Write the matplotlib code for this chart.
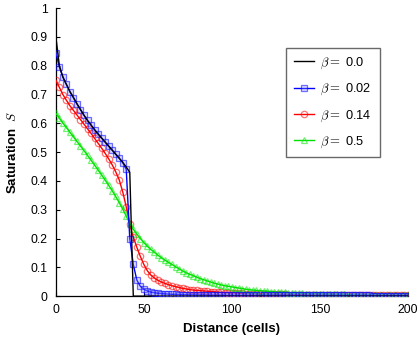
import numpy as np
import matplotlib
matplotlib.use("Agg")
import matplotlib.pyplot as plt

plt.rcParams['font.family'] = ['Liberation Sans', 'DejaVu Sans']
plt.rcParams['mathtext.fontset'] = 'cm'

distance = np.arange(0, 201, 2)

s_beta_0 = [
    0.900, 0.800, 0.760, 0.735, 0.710, 0.690, 0.668, 0.648, 0.628, 0.610,
    0.594, 0.578, 0.563, 0.549, 0.535, 0.521, 0.507, 0.493, 0.479, 0.465,
    0.448, 0.430, 0.000, 0.000, 0.000, 0.000, 0.000, 0.000, 0.000, 0.000,
    0.000, 0.000, 0.000, 0.000, 0.000, 0.000, 0.000, 0.000, 0.000, 0.000,
    0.000, 0.000, 0.000, 0.000, 0.000, 0.000, 0.000, 0.000, 0.000, 0.000,
    0.000, 0.000, 0.000, 0.000, 0.000, 0.000, 0.000, 0.000, 0.000, 0.000,
    0.000, 0.000, 0.000, 0.000, 0.000, 0.000, 0.000, 0.000, 0.000, 0.000,
    0.000, 0.000, 0.000, 0.000, 0.000, 0.000, 0.000, 0.000, 0.000, 0.000,
    0.000, 0.000, 0.000, 0.000, 0.000, 0.000, 0.000, 0.000, 0.000, 0.000,
    0.000, 0.000, 0.000, 0.000, 0.000, 0.000, 0.000, 0.000, 0.000, 0.000,
    0.000,
]

s_beta_002 = [
    0.845, 0.795, 0.762, 0.735, 0.710, 0.688, 0.667, 0.647, 0.628, 0.610,
    0.594, 0.578, 0.563, 0.549, 0.535, 0.521, 0.507, 0.493, 0.479, 0.463,
    0.440, 0.200, 0.110, 0.056, 0.034, 0.024, 0.018, 0.014, 0.012, 0.010,
    0.009, 0.008, 0.007, 0.0065, 0.006, 0.0055, 0.005, 0.005, 0.0045, 0.0045,
    0.004, 0.004, 0.004, 0.0035, 0.0035, 0.0035, 0.003, 0.003, 0.003, 0.003,
    0.003, 0.003, 0.003, 0.003, 0.003, 0.003, 0.003, 0.003, 0.003, 0.003,
    0.003, 0.003, 0.003, 0.003, 0.003, 0.003, 0.003, 0.003, 0.003, 0.003,
    0.0025, 0.0025, 0.0025, 0.0025, 0.0025, 0.0025, 0.0025, 0.0025, 0.0025, 0.0025,
    0.0025, 0.0025, 0.0025, 0.0025, 0.0025, 0.0025, 0.0025, 0.0025, 0.0025, 0.0025,
    0.002, 0.002, 0.002, 0.002, 0.002, 0.002, 0.002, 0.002, 0.002, 0.002,
    0.002,
]

s_beta_014 = [
    0.750, 0.725, 0.700, 0.680, 0.661, 0.645, 0.629, 0.613, 0.597, 0.581,
    0.565, 0.548, 0.531, 0.514, 0.496, 0.477, 0.456, 0.432, 0.404, 0.362,
    0.310, 0.250, 0.205, 0.170, 0.138, 0.110, 0.088, 0.073, 0.063, 0.055,
    0.049, 0.044, 0.040, 0.036, 0.033, 0.030, 0.027, 0.025, 0.023, 0.021,
    0.020, 0.019, 0.018, 0.017, 0.016, 0.015, 0.014, 0.013, 0.012, 0.012,
    0.011, 0.011, 0.010, 0.010, 0.009, 0.009, 0.008, 0.008, 0.008, 0.007,
    0.007, 0.007, 0.006, 0.006, 0.006, 0.006, 0.005, 0.005, 0.005, 0.005,
    0.005, 0.005, 0.004, 0.004, 0.004, 0.004, 0.004, 0.004, 0.004, 0.004,
    0.004, 0.003, 0.003, 0.003, 0.003, 0.003, 0.003, 0.003, 0.003, 0.003,
    0.003, 0.003, 0.003, 0.003, 0.003, 0.003, 0.003, 0.003, 0.003, 0.003,
    0.003,
]

s_beta_05 = [
    0.635, 0.618, 0.601, 0.585, 0.569, 0.553, 0.537, 0.521, 0.505, 0.489,
    0.472, 0.455, 0.438, 0.421, 0.403, 0.385, 0.366, 0.346, 0.325, 0.302,
    0.278, 0.252, 0.232, 0.215, 0.200, 0.186, 0.173, 0.162, 0.152, 0.142,
    0.133, 0.125, 0.117, 0.110, 0.102, 0.095, 0.088, 0.081, 0.076, 0.071,
    0.066, 0.061, 0.057, 0.053, 0.049, 0.045, 0.042, 0.039, 0.036, 0.034,
    0.032, 0.030, 0.028, 0.026, 0.024, 0.022, 0.021, 0.020, 0.019, 0.018,
    0.017, 0.016, 0.015, 0.014, 0.013, 0.013, 0.012, 0.011, 0.011, 0.010,
    0.010, 0.009, 0.009, 0.008, 0.008, 0.008, 0.007, 0.007, 0.007, 0.006,
    0.006, 0.006, 0.006, 0.005, 0.005, 0.005, 0.005, 0.005, 0.004, 0.004,
    0.004, 0.004, 0.004, 0.004, 0.003, 0.003, 0.003, 0.003, 0.003, 0.003,
    0.003,
]

labels = [r'$\beta =$ 0.0', r'$\beta =$ 0.02', r'$\beta =$ 0.14', r'$\beta =$ 0.5']
x_ticks = [0, 50, 100, 150, 200]
y_ticks = [0, 0.1, 0.2, 0.3, 0.4, 0.5, 0.6, 0.7, 0.8, 0.9, 1]
y_ticklabels = ['0', '0.1', '0.2', '0.3', '0.4', '0.5', '0.6', '0.7', '0.8', '0.9', '1']

fig = plt.figure(figsize=(4.2, 3.4), dpi=100)
ax = fig.add_axes([0.133, 0.129, 0.838, 0.847])

ms = 4.6
ax.plot(distance, s_beta_0, color='black', lw=1.0, label=labels[0], zorder=5)
ax.plot(distance, s_beta_002, color='#0000ff', lw=1.0, marker='s', ms=ms,
        mfc=(0.55, 0.55, 1.0, 0.3), mec=(0, 0, 1, 0.55), mew=0.9, label=labels[1], zorder=4)
ax.plot(distance, s_beta_014, color='#ff0000', lw=1.0, marker='o', ms=ms,
        mfc='none', mec=(1, 0, 0, 0.55), mew=0.9, label=labels[2], zorder=3)
ax.plot(distance, s_beta_05, color='#00e000', lw=1.0, marker='^', ms=ms,
        mfc='none', mec=(0, 0.9, 0, 0.55), mew=0.9, label=labels[3], zorder=3.5)

ax.set_xlim(0, 200)
ax.set_ylim(0, 1)
ax.set_xticks(x_ticks)
ax.set_xticklabels([str(t) for t in x_ticks])
ax.set_yticks(y_ticks)
ax.set_yticklabels(y_ticklabels)
ax.tick_params(direction='in', length=3, labelsize=8.8, width=0.8, pad=6)
for side in ['top', 'right']:
    ax.spines[side].set_visible(False)
for side in ['left', 'bottom']:
    ax.spines[side].set_linewidth(0.9)

ax.set_xlabel('Distance (cells)', fontsize=9.5, fontweight='bold', labelpad=5)
ax.set_ylabel(r'Saturation  $S$', fontsize=9.5, fontweight='bold', labelpad=8)

leg = ax.legend(loc='upper left', bbox_to_anchor=(286 / 420, 1 - 48 / 340),
                bbox_transform=fig.transFigure, fontsize=9.2, frameon=True,
                fancybox=False, edgecolor='#444444', handlelength=1.6,
                labelspacing=0.85, borderpad=0.6, handletextpad=0.5,
                borderaxespad=0)
leg.get_frame().set_linewidth(1.0)

fig.savefig('out.png', dpi=100)
